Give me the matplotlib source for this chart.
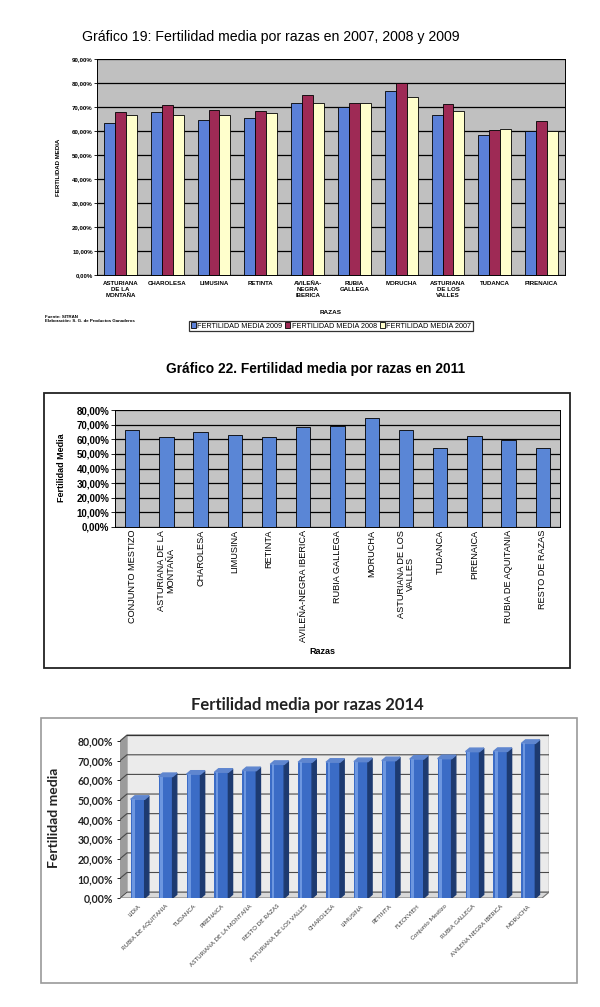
import numpy as np
import matplotlib.pyplot as plt
from matplotlib.patches import Rectangle
from matplotlib.ticker import FuncFormatter

plt.rcParams['font.family'] = ['Liberation Sans', 'DejaVu Sans']

W, H = 600, 1007

# --- data, chart 1 (2007-2009)
razas_1 = ['ASTURIANA\nDE LA\nMONTAÑA', 'CHAROLESA', 'LIMUSINA', 'RETINTA',
           'AVILEÑA-\nNEGRA\nIBERICA', 'RUBIA\nGALLEGA', 'MORUCHA',
           'ASTURIANA\nDE LOS\nVALLES', 'TUDANCA', 'PIRENAICA']
fert_2009 = [63.3, 67.8, 64.7, 65.3, 71.8, 70.0, 76.7, 66.8, 58.2, 60.1]
fert_2008 = [67.8, 70.8, 68.6, 68.5, 74.9, 71.8, 80.0, 71.3, 60.3, 64.3]
fert_2007 = [66.5, 66.5, 66.5, 67.6, 71.8, 71.8, 74.2, 68.2, 61.0, 59.8]

# --- data, chart 2 (2011)
razas_2 = ['CONJUNTO MESTIZO', 'ASTURIANA DE LA\nMONTAÑA', 'CHAROLESA', 'LIMUSINA',
           'RETINTA', 'AVILEÑA-NEGRA IBERICA', 'RUBIA GALLEGA', 'MORUCHA',
           'ASTURIANA DE LOS\nVALLES', 'TUDANCA', 'PIRENAICA', 'RUBIA DE AQUITANIA',
           'RESTO DE RAZAS']
fert_2011 = [66.2, 61.6, 65.1, 63.2, 61.4, 68.3, 69.4, 74.7, 66.0, 53.8, 62.5, 59.5, 53.8]

# --- data, chart 3 (2014)
razas_3 = ['LIDIA', 'RUBIA DE AQUITANIA', 'TUDANCA', 'PIRENAICA',
           'ASTURIANA DE LA MONTAÑA', 'RESTO DE RAZAS', 'ASTURIANA DE LOS VALLES',
           'CHAROLESA', 'LIMUSINA', 'RETINTA', 'FLECKVIEH', 'Conjunto Mestizo',
           'RUBIA GALLEGA', 'AVILEÑA NEGRA IBERICA', 'MORUCHA']
fert_2014 = [50.3, 61.9, 63.1, 64.1, 64.9, 68.1, 69.2, 69.2, 69.5, 70.0, 70.8, 71.0,
             74.6, 74.7, 78.8]

pct = FuncFormatter(lambda v, p: f'{v:.2f}%'.replace('.', ','))


def px_axes(x0, y0, x1, y1):
    # pixel box (top-left origin) -> figure axes
    return fig.add_axes([x0 / W, 1 - y1 / H, (x1 - x0) / W, (y1 - y0) / H])


def ftext(x, y, s, **kw):
    return fig.text(x / W, 1 - y / H, s, **kw)


fig = plt.figure(figsize=(6, 10.07), dpi=100)

# ================= Chart 1 =================
ftext(271, 37, 'Gráfico 19: Fertilidad media por razas en 2007, 2008 y 2009',
      ha='center', va='center', fontsize=10.2)
ax1 = px_axes(97, 59, 565, 275)
ax1.set_facecolor('#c0c0c0')
x = np.arange(len(razas_1))
w = 0.235
b1 = ax1.bar(x - w, fert_2009, w, color='#5b80d8', edgecolor='black', linewidth=0.6,
             label='FERTILIDAD MEDIA 2009', zorder=3)
b2 = ax1.bar(x, fert_2008, w, color='#9e2a55', edgecolor='black', linewidth=0.6,
             label='FERTILIDAD MEDIA 2008', zorder=3)
b3 = ax1.bar(x + w, fert_2007, w, color='#ffffcc', edgecolor='black', linewidth=0.6,
             label='FERTILIDAD MEDIA 2007', zorder=3)
ax1.set_xlim(-0.5, len(razas_1) - 0.5)
ax1.set_ylim(0, 90)
ax1.set_yticks(np.arange(0, 91, 10))
ax1.yaxis.set_major_formatter(pct)
ax1.grid(axis='y', color='black', linewidth=0.9, zorder=0)
ax1.set_xticks(x)
ax1.set_xticklabels(razas_1, fontsize=4.4, fontweight='bold', linespacing=1.25)
ax1.tick_params(axis='y', labelsize=4.4, length=2, width=0.6, pad=1)
ax1.tick_params(axis='x', length=0, pad=4)
for lab in ax1.get_yticklabels():
    lab.set_fontweight('bold')
for s in ax1.spines.values():
    s.set_linewidth(0.7)
ftext(58, 167, 'FERTILIDAD MEDIA', rotation=90, ha='center', va='center',
      fontsize=4.4, fontweight='bold')
ftext(331, 312, 'RAZAS', ha='center', va='center', fontsize=4.6, fontweight='bold')
ftext(45, 315, 'Fuente: SITRAN\nElaboración: S. G. de Productos Ganaderos', ha='left',
      va='top', fontsize=3.2, fontweight='bold', linespacing=1.1)
leg = fig.legend(handles=[b1, b2, b3], loc='center', bbox_to_anchor=(331 / W, 1 - 326 / H),
                 ncol=3, fontsize=5.2, frameon=True, fancybox=False, edgecolor='black',
                 handlelength=0.7, handleheight=0.7, handletextpad=0.15,
                 columnspacing=0.4, borderpad=0.25)
leg.get_frame().set_linewidth(0.9)

# ================= Chart 2 =================
ftext(316, 369, 'Gráfico 22. Fertilidad media por razas en 2011',
      ha='center', va='center', fontsize=9.9, fontweight='bold')
fig.patches.append(Rectangle((44 / W, 1 - 668 / H), (570 - 44) / W, (668 - 393) / H,
                             transform=fig.transFigure, fill=False,
                             edgecolor='#222222', linewidth=1.3))
ax2 = px_axes(115, 410, 560, 527)
ax2.set_facecolor('#c4c4c4')
x2 = np.arange(len(razas_2))
ax2.bar(x2, fert_2011, 0.42, color='#5a86d6', edgecolor='black', linewidth=0.6, zorder=3)
ax2.set_xlim(-0.5, len(razas_2) - 0.5)
ax2.set_ylim(0, 80)
ax2.set_yticks(np.arange(0, 81, 10))
ax2.yaxis.set_major_formatter(pct)
ax2.grid(axis='y', color='black', linewidth=0.9, zorder=0)
ax2.set_xticks(x2)
ax2.set_xticklabels(razas_2, rotation=90, fontsize=6.6, ha='center', va='top',
                    multialignment='center', linespacing=1.0)
ax2.tick_params(axis='y', labelsize=7, length=3, width=0.6, pad=1)
ax2.tick_params(axis='x', length=0, pad=2)
for lab in ax2.get_yticklabels():
    lab.set_fontweight('bold')
for s in ax2.spines.values():
    s.set_linewidth(0.7)
ftext(62, 468, 'Fertilidad Media', rotation=90, ha='center', va='center',
      fontsize=6.5, fontweight='bold')
ftext(322, 652, 'Razas', ha='center', va='center', fontsize=6.5, fontweight='bold')

# ================= Chart 3 (pseudo 3D) =================
ftext(307, 705, 'Fertilidad media por razas 2014', ha='center', va='center',
      fontsize=12, fontweight='bold', family=['Lato', 'DejaVu Sans'], color='#222222')
fig.patches.append(Rectangle((41 / W, 1 - 983 / H), (577 - 41) / W, (983 - 718) / H,
                             transform=fig.transFigure, fill=False,
                             edgecolor='#9a9a9a', linewidth=1.2))
ax3 = px_axes(120, 734, 549, 898)
ax3.set_xlim(-0.634, 14.74)
ax3.set_ylim(0, 83.6)
xl, xr = -0.634, 14.74 - 0.25
dx, dy = 0.25, 3.0
top = 80
# left wall, floor, back wall
ax3.fill([xl, xl + dx, xl + dx, xl], [0, dy, top + dy, top], color='#9c9c9c', zorder=1)
ax3.fill([xl, xr, xr + dx, xl + dx], [0, 0, dy, dy], color='#d8d8d8', zorder=1)
ax3.fill([xl + dx, xr + dx, xr + dx, xl + dx], [dy, dy, top + dy, top + dy],
         color='#ebebeb', zorder=0.5)
for v in range(0, 81, 10):
    ax3.plot([xl, xl + dx, xr + dx], [v, v + dy, v + dy], color='#4a4a4a',
             linewidth=0.8, zorder=1.5)
ax3.plot([xl + dx, xr + dx, xr + dx], [top + dy, top + dy, dy], color='#333333',
         linewidth=0.9, zorder=1.5)
ax3.plot([xl, xr, xr + dx], [0, 0, dy], color='#777777', linewidth=0.8, zorder=1.6)

x3 = np.arange(len(razas_3))
bw = 0.5
ax3.bar(x3, fert_2014, bw, color='#3b6cc6', zorder=3)
ax3.bar(x3 - bw * 0.3, fert_2014, bw * 0.18, color='#6d97e0', zorder=3.1)
for xi, v in zip(x3, fert_2014):
    ax3.fill([xi + bw / 2, xi + bw / 2 + dx * 0.6, xi + bw / 2 + dx * 0.6, xi + bw / 2],
             [0, dy * 0.6, v + dy * 0.6, v], color='#1d3a70', zorder=3)
    ax3.fill([xi - bw / 2, xi - bw / 2 + dx * 0.6, xi + bw / 2 + dx * 0.6, xi + bw / 2],
             [v, v + dy * 0.6, v + dy * 0.6, v], color='#5f86cf', zorder=3)

ax3.set_yticks(np.arange(0, 81, 10))
ax3.yaxis.set_major_formatter(pct)
ax3.set_xticks(x3)
ax3.set_xticklabels(razas_3, rotation=45, ha='right', rotation_mode='anchor',
                    fontsize=4.4, color='#3a3a3a', family=['Lato', 'DejaVu Sans'])
ax3.tick_params(axis='y', labelsize=7.6, length=2, width=0.6, pad=3)
ax3.tick_params(axis='x', length=0, pad=4)
for lab in ax3.get_yticklabels():
    lab.set_fontweight('bold')
    lab.set_family(['Lato', 'DejaVu Sans'])
    lab.set_color('#222222')
for s in ax3.spines.values():
    s.set_visible(False)
ax3.patch.set_visible(False)
ftext(54, 818, 'Fertilidad media', rotation=90, ha='center', va='center',
      fontsize=10, fontweight='bold', family=['Lato', 'DejaVu Sans'], color='#222222')

fig.savefig('out.png', dpi=100)
